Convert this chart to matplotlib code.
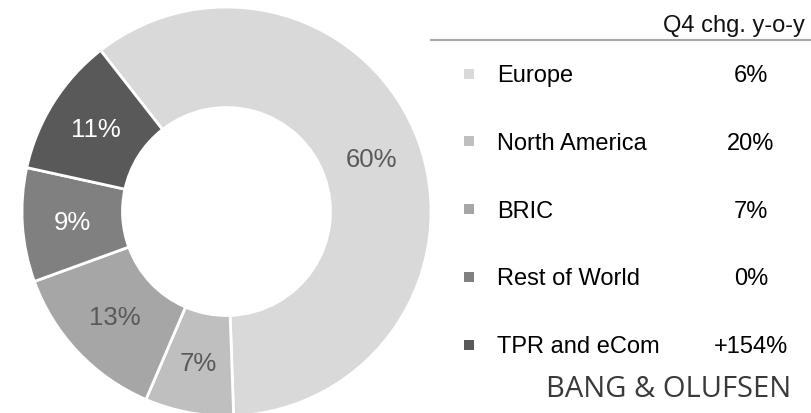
import matplotlib
matplotlib.use("Agg")
import matplotlib.pyplot as plt

# ---- data ----
regions = ["Europe", "North America", "BRIC", "Rest of World", "TPR and eCom"]
shares = [60, 7, 13, 9, 11]
changes = ["6%", "20%", "7%", "0%", "+154%"]
colors = ["#d9d9d9", "#bfbfbf", "#a6a6a6", "#808080", "#595959"]
label_colors = ["#595959", "#595959", "#595959", "white", "white"]
header = "Q4 chg. y-o-y"
brand = "BANG & OLUFSEN"

W, H = 812, 414
plt.rcParams['font.family'] = ['Liberation Sans', 'DejaVu Sans']
fig = plt.figure(figsize=(W / 100, H / 100), dpi=100)
ax = fig.add_axes([0, 0, 1, 1])

def Y(y):
    return H - y

R_out, R_in = 204.5, 104
wedges, _, autotexts = ax.pie(
    shares, colors=colors, startangle=128, counterclock=False,
    radius=R_out, center=(226.5, Y(212.5)), frame=True,
    autopct=lambda p: f"{p:.0f}%", pctdistance=(R_out + R_in) / 2 / R_out,
    wedgeprops=dict(width=R_out - R_in, edgecolor='white', linewidth=2),
    textprops=dict(fontsize=18.5))
for t, c in zip(autotexts, label_colors):
    t.set_color(c)
ax.set_xlim(0, W)
ax.set_ylim(0, H)
ax.set_aspect('equal')
ax.axis('off')

# header and rule
ax.text(734, Y(32), header, ha='center', va='baseline', fontsize=17, color='#111111')
ax.plot([430, W], [Y(41), Y(41)], color='#a6a6a6', lw=1.5, solid_capstyle='butt')

# legend rows
row0, step = 82, 67.8
for i, (name, chg, col) in enumerate(zip(regions, changes, colors)):
    yb = row0 + i * step
    ax.scatter([469], [Y(yb - 7.5)], marker='s', s=60, color=col, linewidths=0)
    ax.text(497, Y(yb), name, ha='left', va='baseline', fontsize=17, color='#000000')
    ax.text(751, Y(yb), chg, ha='center', va='baseline', fontsize=17, color='#000000')

ax.text(668.5, Y(397), brand, ha='center', va='baseline', fontsize=21,
        family=['Open Sans', 'DejaVu Sans'], color='#3a3a3a')

fig.savefig("out.png", dpi=100)
